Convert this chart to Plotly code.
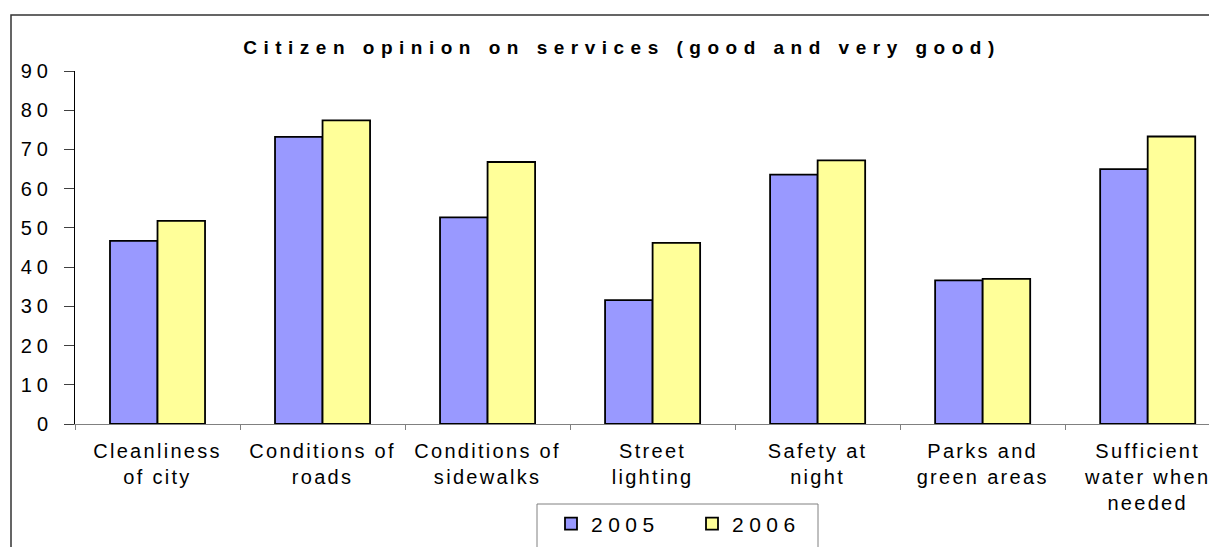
import plotly.graph_objects as go

categories = ["Cleanliness of city", "Conditions of roads", "Conditions of sidewalks",
              "Street lighting", "Safety at night", "Parks and green areas",
              "Sufficient water when needed"]
tick_labels = ["Cleanliness<br>of city", "Conditions of<br>roads", "Conditions of<br>sidewalks",
               "Street<br>lighting", "Safety at<br>night", "Parks and<br>green areas",
               "Sufficient<br>water when<br>needed"]
series_names = ["2005", "2006"]
values_2005 = [46.7, 73.2, 52.7, 31.6, 63.6, 36.6, 65.0]
values_2006 = [51.8, 77.4, 66.8, 46.2, 67.2, 37.0, 73.3]
y_ticks = [0, 10, 20, 30, 40, 50, 60, 70, 80, 90]
title_text = "Citizen opinion on services (good and very good)"

FONT = "Arial, 'Liberation Sans', sans-serif"


def spaced(t, px):
    return '<span style="letter-spacing:%spx">%s</span>' % (px, t)


def spaced_multi(t, px):
    return "<br>".join(spaced(p, px) for p in t.split("<br>"))


fig = go.Figure()
fig.add_trace(go.Bar(name=spaced(series_names[0], 5.5), x=categories, y=values_2005,
                     marker=dict(color="#9999FF", line=dict(color="black", width=1.8))))
fig.add_trace(go.Bar(name=spaced(series_names[1], 5.5), x=categories, y=values_2006,
                     marker=dict(color="#FFFF99", line=dict(color="black", width=1.8))))

# page has an 8px body margin; the figure is laid out so page pixels match the reference
W, H = 1209, 539
L, T, B = 67, 63, 123
pw = W - L
ph = H - T - B
y0px = T + ph  # pixel row of the x axis (figure coords)

fig.update_layout(
    width=W, height=H,
    margin=dict(l=L, r=0, t=T, b=B, autoexpand=False),
    paper_bgcolor="white", plot_bgcolor="white",
    barmode="group", bargap=0.424, bargroupgap=0,
    font=dict(family=FONT, size=19, color="black"),
    title=dict(text="<b>" + spaced(title_text, 6.5) + "</b>", x=614 / W, xanchor="center",
               y=1 - 39 / H, yanchor="middle", font=dict(family=FONT, size=19, color="black")),
    showlegend=True,
    legend=dict(orientation="h", x=(543 - L) / pw, xanchor="left",
                y=-(516 - y0px) / ph, yanchor="middle",
                bgcolor="rgba(0,0,0,0)", borderwidth=0,
                font=dict(family=FONT, size=21, color="black"),
                entrywidth=96, entrywidthmode="pixels"),
    xaxis=dict(type="category", range=[-0.5, 6.42], tickmode="array", tickvals=categories,
               ticktext=[spaced_multi(t, 2.3) for t in tick_labels],
               tickson="boundaries", ticks="outside", ticklen=5, tickcolor="#808080",
               showline=True, linecolor="#808080", linewidth=1, showgrid=False,
               tickfont=dict(family=FONT, size=20), ticklabelstandoff=9),
    yaxis=dict(range=[0, 90], tickmode="array", tickvals=y_ticks,
               ticktext=[spaced(str(v), 5) for v in y_ticks],
               ticks="outside", ticklen=10, tickcolor="#404040",
               showline=True, linecolor="black", linewidth=1, showgrid=False, zeroline=False,
               tickfont=dict(family=FONT, size=20), ticklabelstandoff=7),
)

# outer chart border
fig.add_shape(type="rect", xref="paper", yref="paper",
              x0=(3 - L) / pw, x1=1.05, y0=-0.6, y1=1 + (T - 7) / ph,
              line=dict(color="#333333", width=1.5), fillcolor="rgba(0,0,0,0)", layer="below")
# legend frame
fig.add_shape(type="rect", xref="paper", yref="paper",
              x0=(529 - L) / pw, x1=(810 - L) / pw, y0=-0.5, y1=-(496 - y0px) / ph,
              line=dict(color="#808080", width=1), fillcolor="rgba(0,0,0,0)")

fig.write_html("out.html")
